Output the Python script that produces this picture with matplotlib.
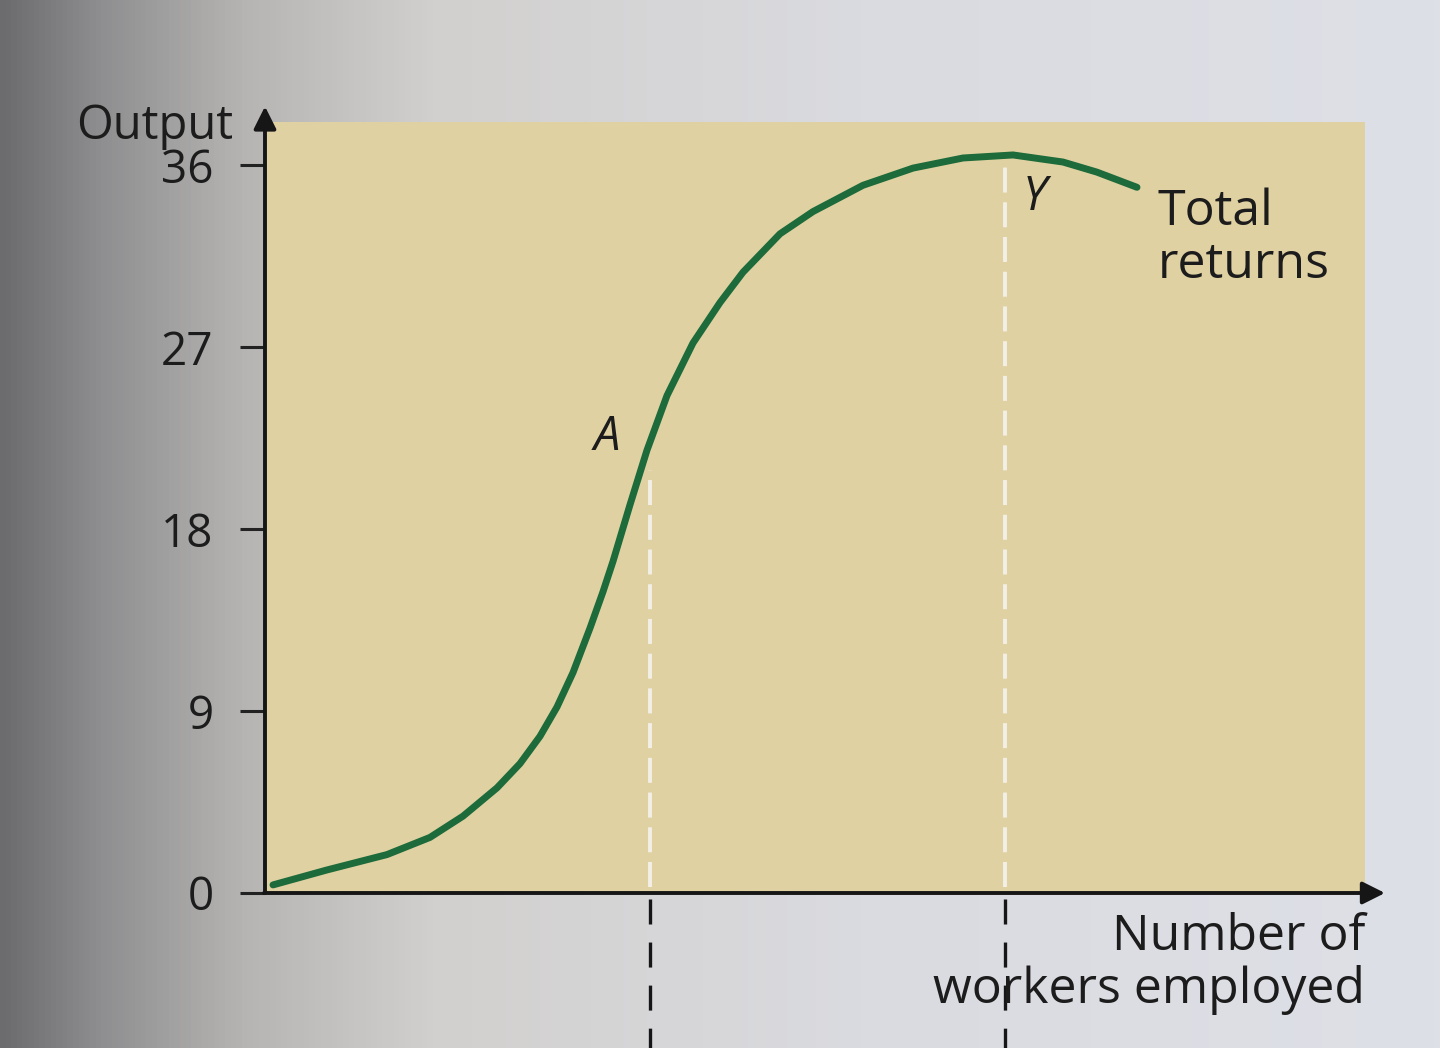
import matplotlib
matplotlib.use("Agg")
import matplotlib.pyplot as plt
import numpy as np
from matplotlib.colors import LinearSegmentedColormap

plt.rcParams['font.family'] = ['Open Sans', 'DejaVu Sans']
plt.rcParams['lines.scale_dashes'] = False

# total returns curve (workers in arbitrary units)
workers = [0.08, 0.62, 1.22, 1.65, 1.98, 2.32, 2.55, 2.75, 2.92, 3.08, 3.25,
           3.38, 3.48, 3.65, 3.82, 4.02, 4.28, 4.55, 4.78, 5.15, 5.48, 5.98,
           6.48, 6.98, 7.48, 7.98, 8.32, 8.72]
output = [0.40, 1.14, 1.9, 2.75, 3.8, 5.2, 6.4, 7.75, 9.2, 10.9, 13.1,
          14.9, 16.4, 19.2, 21.9, 24.6, 27.2, 29.2, 30.7, 32.6, 33.7, 35.0,
          35.85, 36.35, 36.5, 36.15, 35.65, 34.9]
y_ticks = [0, 9, 18, 27, 36]

# marked points: A (steepest point) and Y (maximum output)
point_names = ['A', 'Y']
point_x = [3.85, 7.4]
point_top = [20.9, 36.0]

fig = plt.figure(figsize=(14.4, 10.48), dpi=100)

# page background with the shadow of the book spine on the left
bg = fig.add_axes([0, 0, 1, 1], zorder=0)
shade = LinearSegmentedColormap.from_list(
    'page', [(0, '#6c6c6e'), (0.07, '#8f8f91'), (0.17, '#b7b5b3'),
             (0.3, '#d2d0ce'), (0.6, '#dadbe0'), (1, '#dee0e7')])
bg.imshow(np.linspace(0, 1, 256)[None, :], cmap=shade, aspect='auto',
          extent=[0, 1, 0, 1])
bg.set_axis_off()

ax = fig.add_axes([265 / 1440, (1048 - 893) / 1048, 1100 / 1440, 771 / 1048], zorder=1)
ax.set_facecolor('#e0d1a2')
ax.set_xlim(0, 11)
ax.set_ylim(0, 38.13)

for s in ['top', 'right', 'left', 'bottom']:
    ax.spines[s].set_visible(False)

ax.set_xticks([])
ax.set_yticks(y_ticks)
ax.set_yticklabels([str(t) for t in y_ticks])
ax.tick_params(axis='y', length=18, width=2.2, color='#222222', pad=19,
               labelsize=33, labelcolor='#1c1c1c')

# axis arrows
arrow = dict(arrowstyle='-|>', mutation_scale=34, lw=2.8, color='#161616',
             shrinkA=0, shrinkB=0)
ax.annotate('', xy=(0, 38.9), xytext=(0, 0), arrowprops=arrow, annotation_clip=False)
ax.annotate('', xy=(11.2, 0), xytext=(-0.01, 0), arrowprops=arrow, annotation_clip=False)

# dashed guides
for px, top in zip(point_x, point_top):
    ax.plot([px, px], [0.3, top], color='#f2efe6', lw=2.8, dashes=[18, 7])
    ax.plot([px, px], [-0.3, -8], color='#161616', lw=2.4, dashes=[18, 13],
            clip_on=False)

ax.plot(workers, output, color='#1d6a3a', lw=5, solid_capstyle='round',
        solid_joinstyle='round', zorder=5)

txt = dict(color='#1c1c1c')
ax.text(point_x[0] - 0.43, 22.55, point_names[0], style='italic', fontsize=34,
        ha='center', va='center', **txt)
ax.text(point_x[1] + 0.3, 34.4, point_names[1], style='italic', fontsize=34,
        ha='center', va='center', **txt)
ax.text(8.93, 34.9, 'Total\nreturns', fontsize=36, ha='left', va='top',
        linespacing=1.1, **txt)
ax.text(-1.1, 37.3, 'Output', fontsize=34, ha='center', va='baseline', **txt)
ax.text(11.0, -0.94, 'Number of\nworkers employed', fontsize=36, ha='right',
        va='top', multialignment='right', linespacing=1.1, **txt)

fig.savefig('out.png', dpi=100)
